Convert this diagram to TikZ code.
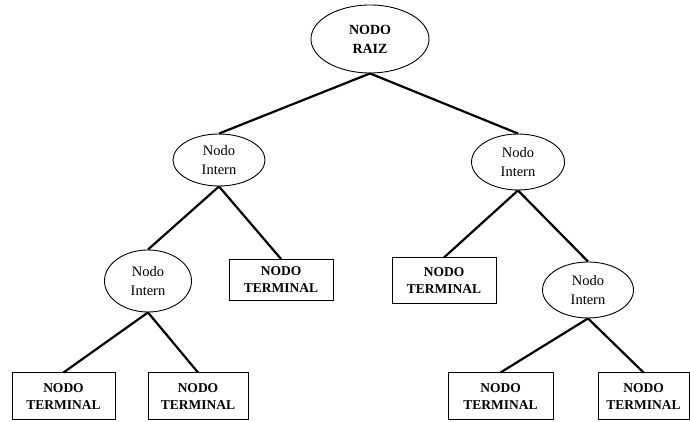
\documentclass[tikz,border=0pt]{standalone}
\usepackage{fontspec}
\setmainfont{Liberation Serif}
\usetikzlibrary{shapes.geometric}
\begin{document}
\begin{tikzpicture}[x=1pt,y=1pt,
  inner/.style={ellipse,draw,line width=0.9pt,align=center,inner sep=0pt,
    font=\fontsize{14.5}{19}\selectfont},
  term/.style={rectangle,draw,line width=1pt,align=center,inner sep=0pt,
    minimum height=44,font=\bfseries\fontsize{13.5}{17}\selectfont},
  edge/.style={line width=2.2pt}]
\useasboundingbox (0,0) rectangle (690,422);
\node[inner,minimum width=118,minimum height=68,font=\bfseries\fontsize{14}{19}\selectfont] (root) at (370,383) {NODO\\RAIZ};
\node[inner,minimum width=92,minimum height=52] (li) at (219,262) {Nodo\\Intern};
\node[inner,minimum width=93,minimum height=56] (ri) at (518,260) {Nodo\\Intern};
\node[inner,minimum width=87,minimum height=62] (lli) at (148,141) {Nodo\\Intern};
\node[inner,minimum width=91,minimum height=56] (rri) at (588,132) {Nodo\\Intern};
\node[term,minimum width=104,minimum height=41] (bm) at (281,142) {NODO\\TERMINAL};
\node[term,minimum width=104,minimum height=46] (rb) at (444,141) {NODO\\TERMINAL};
\node[term,minimum width=103,minimum height=47] (b1) at (63.5,25.5) {NODO\\TERMINAL};
\node[term,minimum width=100,minimum height=47] (b2) at (198,25.5) {NODO\\TERMINAL};
\node[term,minimum width=105,minimum height=47] (b3) at (500.5,25.5) {NODO\\TERMINAL};
\node[term,minimum width=91,minimum height=47] (b4) at (643.5,25.5) {NODO\\TERMINAL};
\draw[edge] (root.south) -- (li.north);
\draw[edge] (root.south) -- (ri.north);
\draw[edge] (li.south) -- (lli.north);
\draw[edge] (li.south) -- (bm.north);
\draw[edge] (ri.south) -- (rb.north);
\draw[edge] (ri.south) -- (rri.north);
\draw[edge] (lli.south) -- (b1.north);
\draw[edge] (lli.south) -- (b2.north);
\draw[edge] (rri.south) -- (b3.north);
\draw[edge] (rri.south) -- (b4.north);
\end{tikzpicture}
\end{document}
